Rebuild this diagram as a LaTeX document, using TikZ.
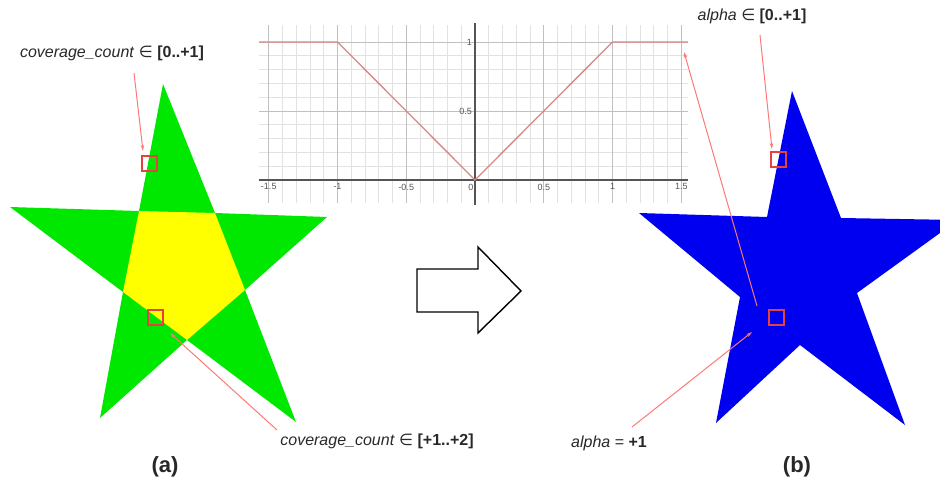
\documentclass[tikz,border=0pt]{standalone}
\usepackage{fontspec}
\setmainfont{Liberation Sans}
\newfontfamily\symfont{DejaVu Sans}
\usetikzlibrary{arrows.meta}
\definecolor{stargreen}{RGB}{0,232,0}
\definecolor{staryellow}{RGB}{255,255,0}
\definecolor{starblue}{RGB}{0,0,240}
\definecolor{pointer}{RGB}{255,120,120}
\definecolor{probe}{RGB}{232,64,64}
\definecolor{curve}{RGB}{215,135,135}
\definecolor{gridminor}{RGB}{226,226,226}
\definecolor{gridmajor}{RGB}{192,192,192}
\definecolor{axisgrey}{RGB}{85,85,85}
\definecolor{txt}{RGB}{40,40,40}
\tikzset{
  lbl/.style={text=txt, font=\fontsize{16}{18}\selectfont, inner sep=0pt},
  caption/.style={text=txt, font=\fontsize{22}{24}\selectfont\bfseries, inner sep=0pt},
  ticklbl/.style={text=axisgrey, font=\fontsize{9}{10}\selectfont, inner sep=1.5pt},
  probebox/.style={draw=probe, line width=2pt, minimum size=15pt, inner sep=0pt},
  rarr/.style={draw=pointer, line width=1pt, -{Stealth[length=6pt,width=3.5pt]}},
  minorline/.style={draw=gridminor, line width=0.6pt},
  majorline/.style={draw=gridmajor, line width=0.8pt},
  axisline/.style={draw=axisgrey, line width=1.2pt},
}
\begin{document}
\begin{tikzpicture}[x=1pt,y=-1pt]
\useasboundingbox (0,0) rectangle (940,486);
\begin{scope}
\clip (0,0) rectangle (940,486);

% ---------- left star ----------
\fill[stargreen] (163,84) -- (215,213) -- (327,217) -- (245,290) -- (296,422)
  -- (187,340) -- (100,418) -- (123,292) -- (10,207) -- (139,211) -- cycle;
\fill[staryellow] (139,211) -- (215,213) -- (245,290) -- (187,340) -- (123,292) -- cycle;

% ---------- right star ----------
\fill[starblue] (792,91) -- (841,218) -- (958,220) -- (857,293) -- (905,425)
  -- (800,345) -- (716,423) -- (740,297) -- (639,213) -- (767,217) -- cycle;

% ---------- graph ----------
\begin{scope}[shift={(475,180)}, x=137.5pt, y=138pt]
  \foreach \i in {-15,...,15} {
    \draw[minorline] (\i/10,-0.17) -- (\i/10,1.12);
  }
  \foreach \j in {1,...,10} {
    \draw[minorline] (-1.57,\j/10) -- (1.55,\j/10);
  }
  \foreach \i in {-15,-10,-5,5,10,15} {
    \draw[majorline] (\i/10,-0.17) -- (\i/10,1.12);
  }
  \draw[majorline] (-1.57,0.5) -- (1.55,0.5);
  \draw[majorline] (-1.57,1) -- (1.55,1);
  \draw[axisline] (-1.57,0) -- (1.55,0);
  \draw[axisline] (0,-0.18) -- (0,1.14);
  \draw[draw=curve, line width=1.3pt] (-1.57,1) -- (-1,1) -- (0,0) -- (1,1) -- (1.55,1);
  \foreach \v/\t in {-1.5/-1.5,-1/-1,-0.5/-0.5,0.5/0.5,1/1,1.5/1.5} {
    \node[ticklbl, anchor=north] (tx\t) at (\v,-0.015) {\t};
  }
  \node[ticklbl, anchor=north east] (tx0) at (0,-0.015) {0};
  \node[ticklbl, anchor=east] (ty1) at (-0.01,1) {1};
  \node[ticklbl, anchor=east] (ty05) at (-0.01,0.5) {0.5};
\end{scope}

% ---------- big outline arrow ----------
\draw[black, line width=1.4pt, line join=miter] (417,269) -- (478,269) -- (478,247) -- (521,291)
  -- (478,333) -- (478,312) -- (417,312) -- cycle;

% ---------- probes ----------
\node[probebox] (p1) at (149,164) {};
\node[probebox] (p2) at (155,318) {};
\node[probebox] (p3) at (778,160) {};
\node[probebox] (p4) at (776,318) {};

% ---------- labels ----------
\node[lbl] (l1) at (112,53) {\textit{coverage\_count} {\symfont ∈} \textbf{[0..+1]}};
\node[lbl] (l2) at (377,441) {\textit{coverage\_count} {\symfont ∈} \textbf{[+1..+2]}};
\node[lbl] (l3) at (752,16) {\textit{alpha} {\symfont ∈} \textbf{[0..+1]}};
\node[lbl] (l4) at (609,443) {\textit{alpha} = \textbf{+1}};
\node[caption] (ca) at (165,467) {(a)};
\node[caption] (cb) at (797,467) {(b)};

% ---------- pointers ----------
\coordinate (a1s) at (134,73);  \coordinate (a1e) at (143,151);
\coordinate (a2s) at (277,430); \coordinate (a2e) at (170,333);
\coordinate (a3s) at (760,35);  \coordinate (a3e) at (772,149);
\coordinate (a4s) at (757,306); \coordinate (a4e) at (684,52);
\coordinate (a5s) at (632,427); \coordinate (a5e) at (752,332);
\draw[rarr] (a1s) -- (a1e);
\draw[rarr] (a2s) -- (a2e);
\draw[rarr] (a3s) -- (a3e);
\draw[rarr] (a4s) -- (a4e);
\draw[rarr] (a5s) -- (a5e);
\end{scope}
\end{tikzpicture}
\end{document}
